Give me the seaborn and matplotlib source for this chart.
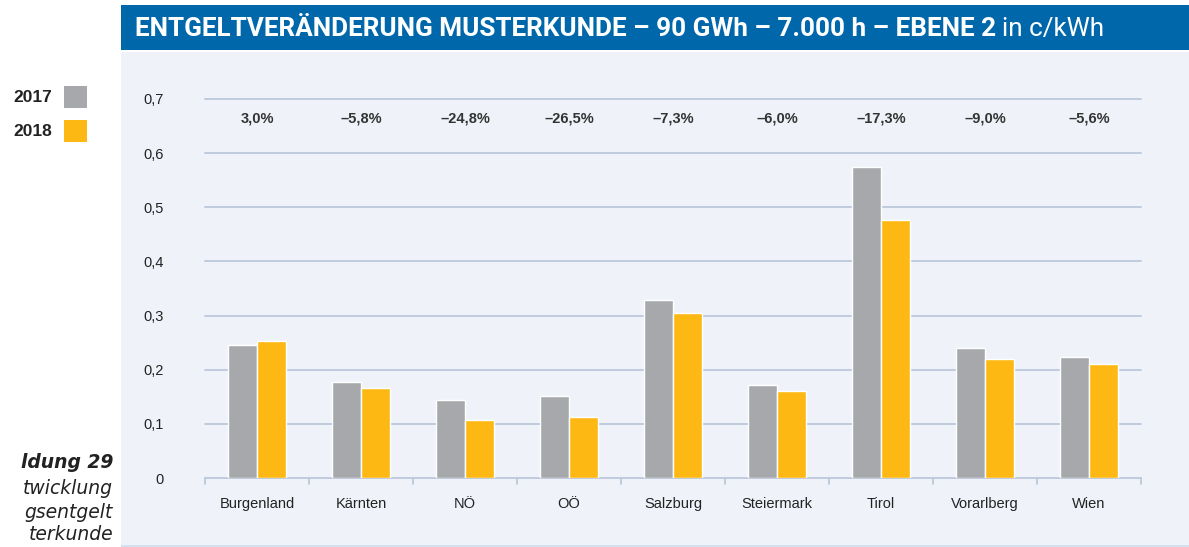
import pandas as pd
import seaborn as sns
import matplotlib.pyplot as plt
from matplotlib.patches import Rectangle

# Data
laender = ['Burgenland', 'Kärnten', 'NÖ', 'OÖ', 'Salzburg', 'Steiermark', 'Tirol', 'Vorarlberg', 'Wien']
werte_2017 = [0.246, 0.177, 0.144, 0.152, 0.329, 0.171, 0.574, 0.240, 0.223]
werte_2018 = [0.253, 0.167, 0.108, 0.112, 0.305, 0.161, 0.476, 0.219, 0.210]
veraenderung = ['3,0%', '–5,8%', '–24,8%', '–26,5%', '–7,3%', '–6,0%', '–17,3%', '–9,0%', '–5,6%']
y_ticks = [0, 0.1, 0.2, 0.3, 0.4, 0.5, 0.6, 0.7]
y_labels = ['0', '0,1', '0,2', '0,3', '0,4', '0,5', '0,6', '0,7']

df = pd.DataFrame({
    'land': laender * 2,
    'jahr': ['2017'] * len(laender) + ['2018'] * len(laender),
    'wert': werte_2017 + werte_2018,
})

sns.set_style('white')
plt.rcParams['font.family'] = ['Liberation Sans', 'DejaVu Sans']

W, H = 1189, 547
fig = plt.figure(figsize=(W / 100, H / 100), dpi=100)
fig.patch.set_facecolor('white')

# background panel and title bar (behind the axes)
panel_col = '#EFF3F9'
fig.patches.append(Rectangle((121 / W, 1 - 545 / H), 1 - 121 / W, (545 - 52) / H,
                             transform=fig.transFigure, facecolor=panel_col, edgecolor='none', zorder=-2))
fig.patches.append(Rectangle((121 / W, 1 - 547 / H), 1 - 121 / W, 2 / H,
                             transform=fig.transFigure, facecolor='#D3E0EE', edgecolor='none', zorder=-2))
fig.patches.append(Rectangle((121 / W, 1 - 50 / H), 1 - 121 / W, 45 / H,
                             transform=fig.transFigure, facecolor='#0067AB', edgecolor='none', zorder=-2))

title_font = ['Roboto', 'Liberation Sans']
t = fig.text(135 / W, 1 - 29 / H, 'ENTGELTVERÄNDERUNG MUSTERKUNDE – 90 GWh – 7.000 h – EBENE 2',
             color='white', fontsize=18.8, fontweight='bold', va='center', ha='left', family=title_font)
fig.canvas.draw()
bb = t.get_window_extent()
fig.text((bb.x1 + 6) / W, 1 - 29 / H, 'in c/kWh', color='white', fontsize=18.8,
         va='center', ha='left', family=title_font)

# axes
ax = fig.add_axes([205 / W, 1 - 478 / H, (1141 - 205) / W, (478 - 99) / H])
ax.set_facecolor('none')
sns.barplot(data=df, x='land', y='wert', hue='jahr', palette=['#A7A8AB', '#FDB813'],
            width=0.56, saturation=1, ax=ax, legend=False, zorder=3)

grid_col = '#BCC8DC'
ax.set_ylim(0, 0.7)
ax.set_xlim(-0.5, len(laender) - 0.5)
ax.set_yticks(y_ticks)
ax.set_yticklabels(y_labels)
for y in y_ticks:
    ax.axhline(y, color=grid_col, lw=1.3, zorder=1, clip_on=False)
for s in ax.spines.values():
    s.set_visible(False)
ax.tick_params(axis='y', length=0, pad=30, labelsize=10.5, labelcolor='#222222')
ax.tick_params(axis='x', length=0, pad=14, labelsize=10.5, labelcolor='#222222')
ax.set_xlabel('')
ax.set_ylabel('')

# category boundary ticks
for i in range(len(laender) + 1):
    ax.plot([i - 0.5, i - 0.5], [0, -0.012], color=grid_col, lw=1.3, clip_on=False, zorder=1)

for i, txt in enumerate(veraenderung):
    ax.text(i, 0.664, txt, ha='center', va='center', fontsize=10.5, fontweight='bold', color='#333333')

# legend on the left
for yy, lab, col in [(97, '2017', '#A7A8AB'), (131, '2018', '#FDB813')]:
    fig.text(52 / W, 1 - yy / H, lab, ha='right', va='center', fontsize=12.5, fontweight='bold', color='#222222')
    fig.patches.append(Rectangle((64 / W, 1 - (yy + 11) / H), 23 / W, 22 / H,
                                 transform=fig.transFigure, facecolor=col, edgecolor='none'))

# caption fragment visible at the left edge
cap_font = ['DejaVu Sans']
fig.text(113 / W, 1 - 462 / H, 'ldung 29', ha='right', va='center', fontsize=13.5,
         fontweight='bold', style='italic', color='#222222', family=cap_font)
for yy, line in [(489, 'twicklung'), (513, 'gsentgelt'), (535, 'terkunde')]:
    fig.text(113 / W, 1 - yy / H, line, ha='right', va='center', fontsize=13.5,
             style='italic', color='#222222', family=cap_font)

fig.savefig('out.png', dpi=100)
